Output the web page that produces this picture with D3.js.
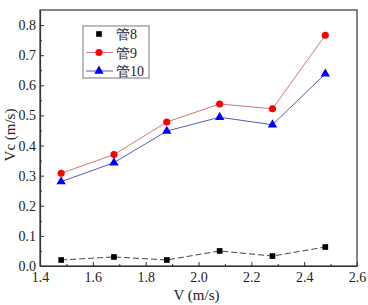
<!DOCTYPE html>
<html>
<head>
<meta charset="utf-8">
<script src="https://cdn.jsdelivr.net/npm/d3@7"></script>
<style>
  body { margin: 0; background: #fff; }
  text { font-family: "Liberation Serif", "Times New Roman", serif; }
</style>
</head>
<body>
<div id="chart"></div>
<script>
const velocities = [1.48, 1.68, 1.88, 2.08, 2.28, 2.48];
const tube8 = [0.020, 0.030, 0.020, 0.050, 0.033, 0.063];
const tube9 = [0.308, 0.370, 0.478, 0.538, 0.522, 0.766];
const tube10 = [0.280, 0.343, 0.448, 0.494, 0.469, 0.638];
const seriesNames = ["管8", "管9", "管10"];
const xTicks = [1.4, 1.6, 1.8, 2.0, 2.2, 2.4, 2.6];
const yTicks = [0.0, 0.1, 0.2, 0.3, 0.4, 0.5, 0.6, 0.7, 0.8];

const W = 368, H = 305;
const margin = { top: 10, right: 11, bottom: 39, left: 40 };
const width = W - margin.left - margin.right;
const height = H - margin.top - margin.bottom;

const svg = d3.select('#chart').append('svg')
  .attr('width', W).attr('height', H);
const g = svg.append('g')
  .attr('transform', `translate(${margin.left},${margin.top})`);

const x = d3.scaleLinear().domain([1.4, 2.6]).range([0, width]);
const y = d3.scaleLinear().domain([0, 0.85]).range([height, 0]);

// frame
g.append('rect')
  .attr('width', width).attr('height', height)
  .attr('fill', 'none').attr('stroke', '#333').attr('stroke-width', 1.2);

// ticks (inward) with minors
const xMinor = d3.range(1.5, 2.6, 0.2);
const yMinor = d3.range(0.05, 0.85, 0.1);

const xAxis = g.append('g').attr('transform', `translate(0,${height})`)
  .call(d3.axisBottom(x).tickValues(xTicks).tickFormat(d3.format('.1f'))
    .tickSizeInner(-4).tickSizeOuter(0).tickPadding(6));
g.append('g').attr('transform', `translate(0,${height})`)
  .call(d3.axisBottom(x).tickValues(xMinor).tickFormat('').tickSizeInner(-2).tickSizeOuter(0))
  .call(a => a.select('.domain').remove());

const yAxis = g.append('g')
  .call(d3.axisLeft(y).tickValues(yTicks).tickFormat(d3.format('.1f'))
    .tickSizeInner(-4).tickSizeOuter(0).tickPadding(4));
g.append('g')
  .call(d3.axisLeft(y).tickValues(yMinor).tickFormat('').tickSizeInner(-2).tickSizeOuter(0))
  .call(a => a.select('.domain').remove());

g.selectAll('.domain').attr('stroke', '#333').attr('stroke-width', 1.2);
g.selectAll('.tick line').attr('stroke', '#333');
g.selectAll('.tick text')
  .attr('font-family', '"Liberation Serif", serif')
  .attr('font-size', 14).attr('fill', '#222');

// axis titles
svg.append('text')
  .attr('x', margin.left + width / 2 - 2).attr('y', H - 5)
  .attr('text-anchor', 'middle').attr('font-size', 15).attr('fill', '#222')
  .text('V (m/s)');
svg.append('text')
  .attr('transform', `translate(15,${margin.top + height / 2 - 3}) rotate(-90)`)
  .attr('text-anchor', 'middle').attr('font-size', 15).attr('fill', '#222')
  .text('Vc (m/s)');

const series = [
  { name: seriesNames[0], values: tube8, line: '#444', dash: '6,3', marker: 'square', fill: '#000' },
  { name: seriesNames[1], values: tube9, line: '#c97a7a', dash: null, marker: 'circle', fill: '#ff0000' },
  { name: seriesNames[2], values: tube10, line: '#5a5ab8', dash: null, marker: 'triangle', fill: '#0000ff' }
];

const line = d3.line().x(d => x(d[0])).y(d => y(d[1]));
const symbolOf = { square: d3.symbolSquare, circle: d3.symbolCircle, triangle: d3.symbolTriangle };
const sizeOf = { square: 32, circle: 40, triangle: 38 };

series.forEach(s => {
  const pts = velocities.map((v, i) => [v, s.values[i]]);
  g.append('path').datum(pts)
    .attr('d', line).attr('fill', 'none')
    .attr('stroke', s.line).attr('stroke-width', 1)
    .attr('stroke-dasharray', s.dash);
  g.selectAll(null).data(pts).enter().append('path')
    .attr('transform', d => `translate(${x(d[0])},${y(d[1])})`)
    .attr('d', d3.symbol().type(symbolOf[s.marker]).size(sizeOf[s.marker]))
    .attr('fill', s.fill);
});

// legend
const lg = svg.append('g').attr('transform', 'translate(83,26)');
lg.append('rect').attr('width', 66).attr('height', 52)
  .attr('fill', '#fff').attr('stroke', '#555').attr('stroke-width', 0.8);
series.forEach((s, i) => {
  const cy = 8 + i * 18.5;
  if (s.marker !== 'square') {
    lg.append('line').attr('x1', 3).attr('x2', 30).attr('y1', cy).attr('y2', cy)
      .attr('stroke', s.line).attr('stroke-width', 1);
  }
  lg.append('path')
    .attr('transform', `translate(16,${cy})`)
    .attr('d', d3.symbol().type(symbolOf[s.marker]).size(sizeOf[s.marker]))
    .attr('fill', s.fill);
  lg.append('text').attr('x', 33).attr('y', cy + 5)
    .attr('font-size', 14).attr('fill', '#222')
    .text(s.name);
});
</script>
</body>
</html>
